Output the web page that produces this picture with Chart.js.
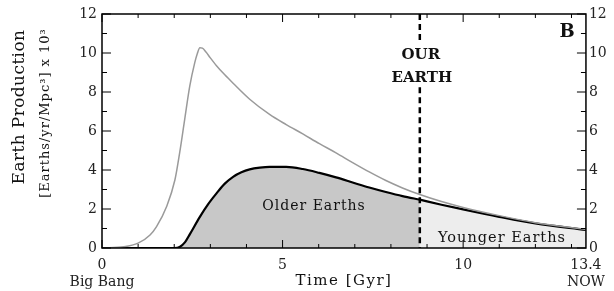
<!DOCTYPE html>
<html lang="en">
<head>
  <meta charset="UTF-8" />
  <title>Earth Production</title>
  <script src="https://cdn.jsdelivr.net/npm/chart.js"></script>
  <style>
    body {
      margin: 0;
      background: #fff;
    }
    #wrap {
      width: 614px;
      height: 291px;
    }
  </style>
</head>
<body>
  <div id="wrap"><canvas id="chart" width="614" height="291"></canvas></div>

  <script>
    // all Earth-like planets formed (thin gray curve)
    const allX = [0, 0.6, 1.0, 1.33, 1.51, 1.79, 2.02, 2.15, 2.29, 2.43, 2.57, 2.64, 2.71, 2.78, 2.88, 3.0, 3.17, 3.4, 3.63, 4.09, 4.64, 5.1, 5.56, 6.02, 6.48, 6.94, 7.4, 7.86, 8.32, 8.8, 9.4, 10, 11, 12, 13.4];
    const allY = [0, 0.06, 0.25, 0.67, 1.1, 2.13, 3.5, 4.88, 6.6, 8.3, 9.52, 9.98, 10.27, 10.25, 10.05, 9.75, 9.35, 8.88, 8.45, 7.63, 6.85, 6.33, 5.85, 5.35, 4.88, 4.38, 3.9, 3.46, 3.08, 2.74, 2.38, 2.08, 1.66, 1.3, 0.95];

    // Earths (thick black curve)
    const earthX = [0, 2.0, 2.15, 2.3, 2.43, 2.71, 2.94, 3.17, 3.4, 3.63, 3.86, 4.09, 4.37, 4.64, 5.1, 5.56, 6.02, 6.48, 6.94, 7.4, 7.86, 8.32, 8.8, 9.4, 10, 11, 12, 13.4];
    const earthY = [0, 0, 0.05, 0.3, 0.7, 1.6, 2.25, 2.8, 3.3, 3.65, 3.88, 4.03, 4.12, 4.16, 4.16, 4.05, 3.85, 3.62, 3.36, 3.1, 2.87, 2.66, 2.48, 2.22, 1.98, 1.6, 1.26, 0.93];

    const OUR_EARTH = 8.8;
    const xTicks = [0, 5, 10, 13.4];
    const xSubLabels = ['Big Bang', '', '', 'NOW'];
    const yTicks = [0, 2, 4, 6, 8, 10, 12];

    const FONT = "'DejaVu Serif', serif";

    function pts(xs, ys) {
      return xs.map((x, i) => ({ x: x, y: ys[i] }));
    }

    const earthPts = pts(earthX, earthY);
    const older = earthPts.filter(p => p.x <= OUR_EARTH);
    const younger = earthPts.filter(p => p.x >= OUR_EARTH);

    const dashPts = [
      { x: OUR_EARTH, y: 12 }, { x: OUR_EARTH, y: 10.6 }, { x: OUR_EARTH, y: null },
      { x: OUR_EARTH, y: 8.25 }, { x: OUR_EARTH, y: 0 }
    ];

    function label(ctx, text, x, y, font, spacing) {
      ctx.font = font;
      ctx.letterSpacing = (spacing || 0) + 'px';
      ctx.fillText(text, x, y);
      ctx.letterSpacing = '0px';
    }

    const decor = {
      id: 'decor',
      afterDatasetsDraw(chart) {
        const { ctx, chartArea: a, scales } = chart;
        const xs = scales.x, ys = scales.y;
        ctx.save();
        ctx.strokeStyle = '#000';
        ctx.lineWidth = 1;
        // inward tick marks on all four sides
        ctx.beginPath();
        for (let v = 0; v <= 13; v++) {
          const px = xs.getPixelForValue(v);
          const len = v % 5 === 0 ? 8 : 4;
          ctx.moveTo(px, a.bottom); ctx.lineTo(px, a.bottom - len);
          ctx.moveTo(px, a.top); ctx.lineTo(px, a.top + len);
        }
        for (let v = 0; v <= 12; v++) {
          const py = ys.getPixelForValue(v);
          const len = v % 2 === 0 ? 9 : 5;
          ctx.moveTo(a.left, py); ctx.lineTo(a.left + len, py);
          ctx.moveTo(a.right, py); ctx.lineTo(a.right - len, py);
        }
        ctx.stroke();
        ctx.lineWidth = 1.5;
        ctx.strokeRect(a.left, a.top, a.right - a.left, a.bottom - a.top);

        ctx.fillStyle = '#111';
        ctx.textAlign = 'center';
        ctx.textBaseline = 'middle';
        const ox = xs.getPixelForValue(OUR_EARTH);
        label(ctx, 'OUR', ox + 1, 55, 'bold 15px ' + FONT);
        label(ctx, 'EARTH', ox + 2, 78, 'bold 15px ' + FONT);
        label(ctx, 'B', 567, 32, 'bold 18px ' + FONT);
        label(ctx, 'Older Earths', 314, 206, '14px ' + FONT, 1);
        label(ctx, 'Younger Earths', 502, 238, '14.5px ' + FONT, 1);

        // axis titles
        label(ctx, 'Time [Gyr]', (a.left + a.right) / 2, 281, '15px ' + FONT, 1.5);
        ctx.save();
        ctx.translate(20, 107);
        ctx.rotate(-Math.PI / 2);
        label(ctx, 'Earth Production', 0, 0, '17px ' + FONT, 0.4);
        ctx.restore();
        ctx.save();
        ctx.translate(46, 113);
        ctx.rotate(-Math.PI / 2);
        label(ctx, '[Earths/yr/Mpc\u00B3] x 10\u00B3', 0, 0, '13px ' + FONT, 1);
        ctx.restore();
        ctx.restore();
      }
    };

    const tickFont = { family: FONT, size: 14 };

    new Chart(document.getElementById('chart'), {
      type: 'line',
      data: {
        datasets: [
          {
            data: older,
            borderColor: '#000',
            borderWidth: 2.2,
            backgroundColor: '#c8c8c8',
            fill: 'origin',
            pointRadius: 0,
            cubicInterpolationMode: 'monotone',
            order: 3
          },
          {
            data: younger,
            borderColor: '#000',
            borderWidth: 2.2,
            backgroundColor: '#ededed',
            fill: 'origin',
            pointRadius: 0,
            cubicInterpolationMode: 'monotone',
            order: 3
          },
          {
            data: pts(allX, allY),
            borderColor: '#9a9a9a',
            borderWidth: 1.5,
            fill: false,
            pointRadius: 0,
            cubicInterpolationMode: 'monotone',
            order: 2
          },
          {
            data: dashPts,
            borderColor: '#000',
            borderWidth: 2.5,
            borderDash: [6, 4],
            fill: false,
            pointRadius: 0,
            tension: 0,
            spanGaps: false,
            order: 1
          }
        ]
      },
      options: {
        responsive: false,
        animation: false,
        devicePixelRatio: 1,
        layout: { padding: { top: 14, left: 0, right: 0, bottom: 0 } },
        plugins: {
          legend: { display: false },
          tooltip: { enabled: false }
        },
        scales: {
          x: {
            type: 'linear',
            min: 0,
            max: 13.4,
            grid: { display: false, drawTicks: false },
            border: { display: false },
            afterFit(s) { s.height = 43; },
            afterBuildTicks(s) { s.ticks = xTicks.map(v => ({ value: v })); },
            ticks: {
              autoSkip: false,
              maxRotation: 0,
              padding: 9,
              color: '#222',
              font: tickFont,
              callback(v) {
                const i = xTicks.indexOf(v);
                return [String(v), xSubLabels[i] || ''];
              }
            }
          },
          y: {
            position: 'left',
            min: 0,
            max: 12,
            grid: { display: false, drawTicks: false },
            border: { display: false },
            afterFit(s) { s.width = 102; },
            afterBuildTicks(s) { s.ticks = yTicks.map(v => ({ value: v })); },
            ticks: { padding: 5, color: '#222', font: tickFont }
          },
          y2: {
            position: 'right',
            min: 0,
            max: 12,
            grid: { display: false, drawTicks: false },
            border: { display: false },
            afterFit(s) { s.width = 27; },
            afterBuildTicks(s) { s.ticks = yTicks.map(v => ({ value: v })); },
            ticks: { padding: 3, color: '#222', font: tickFont }
          }
        }
      },
      plugins: [decor]
    });
  </script>
</body>
</html>
